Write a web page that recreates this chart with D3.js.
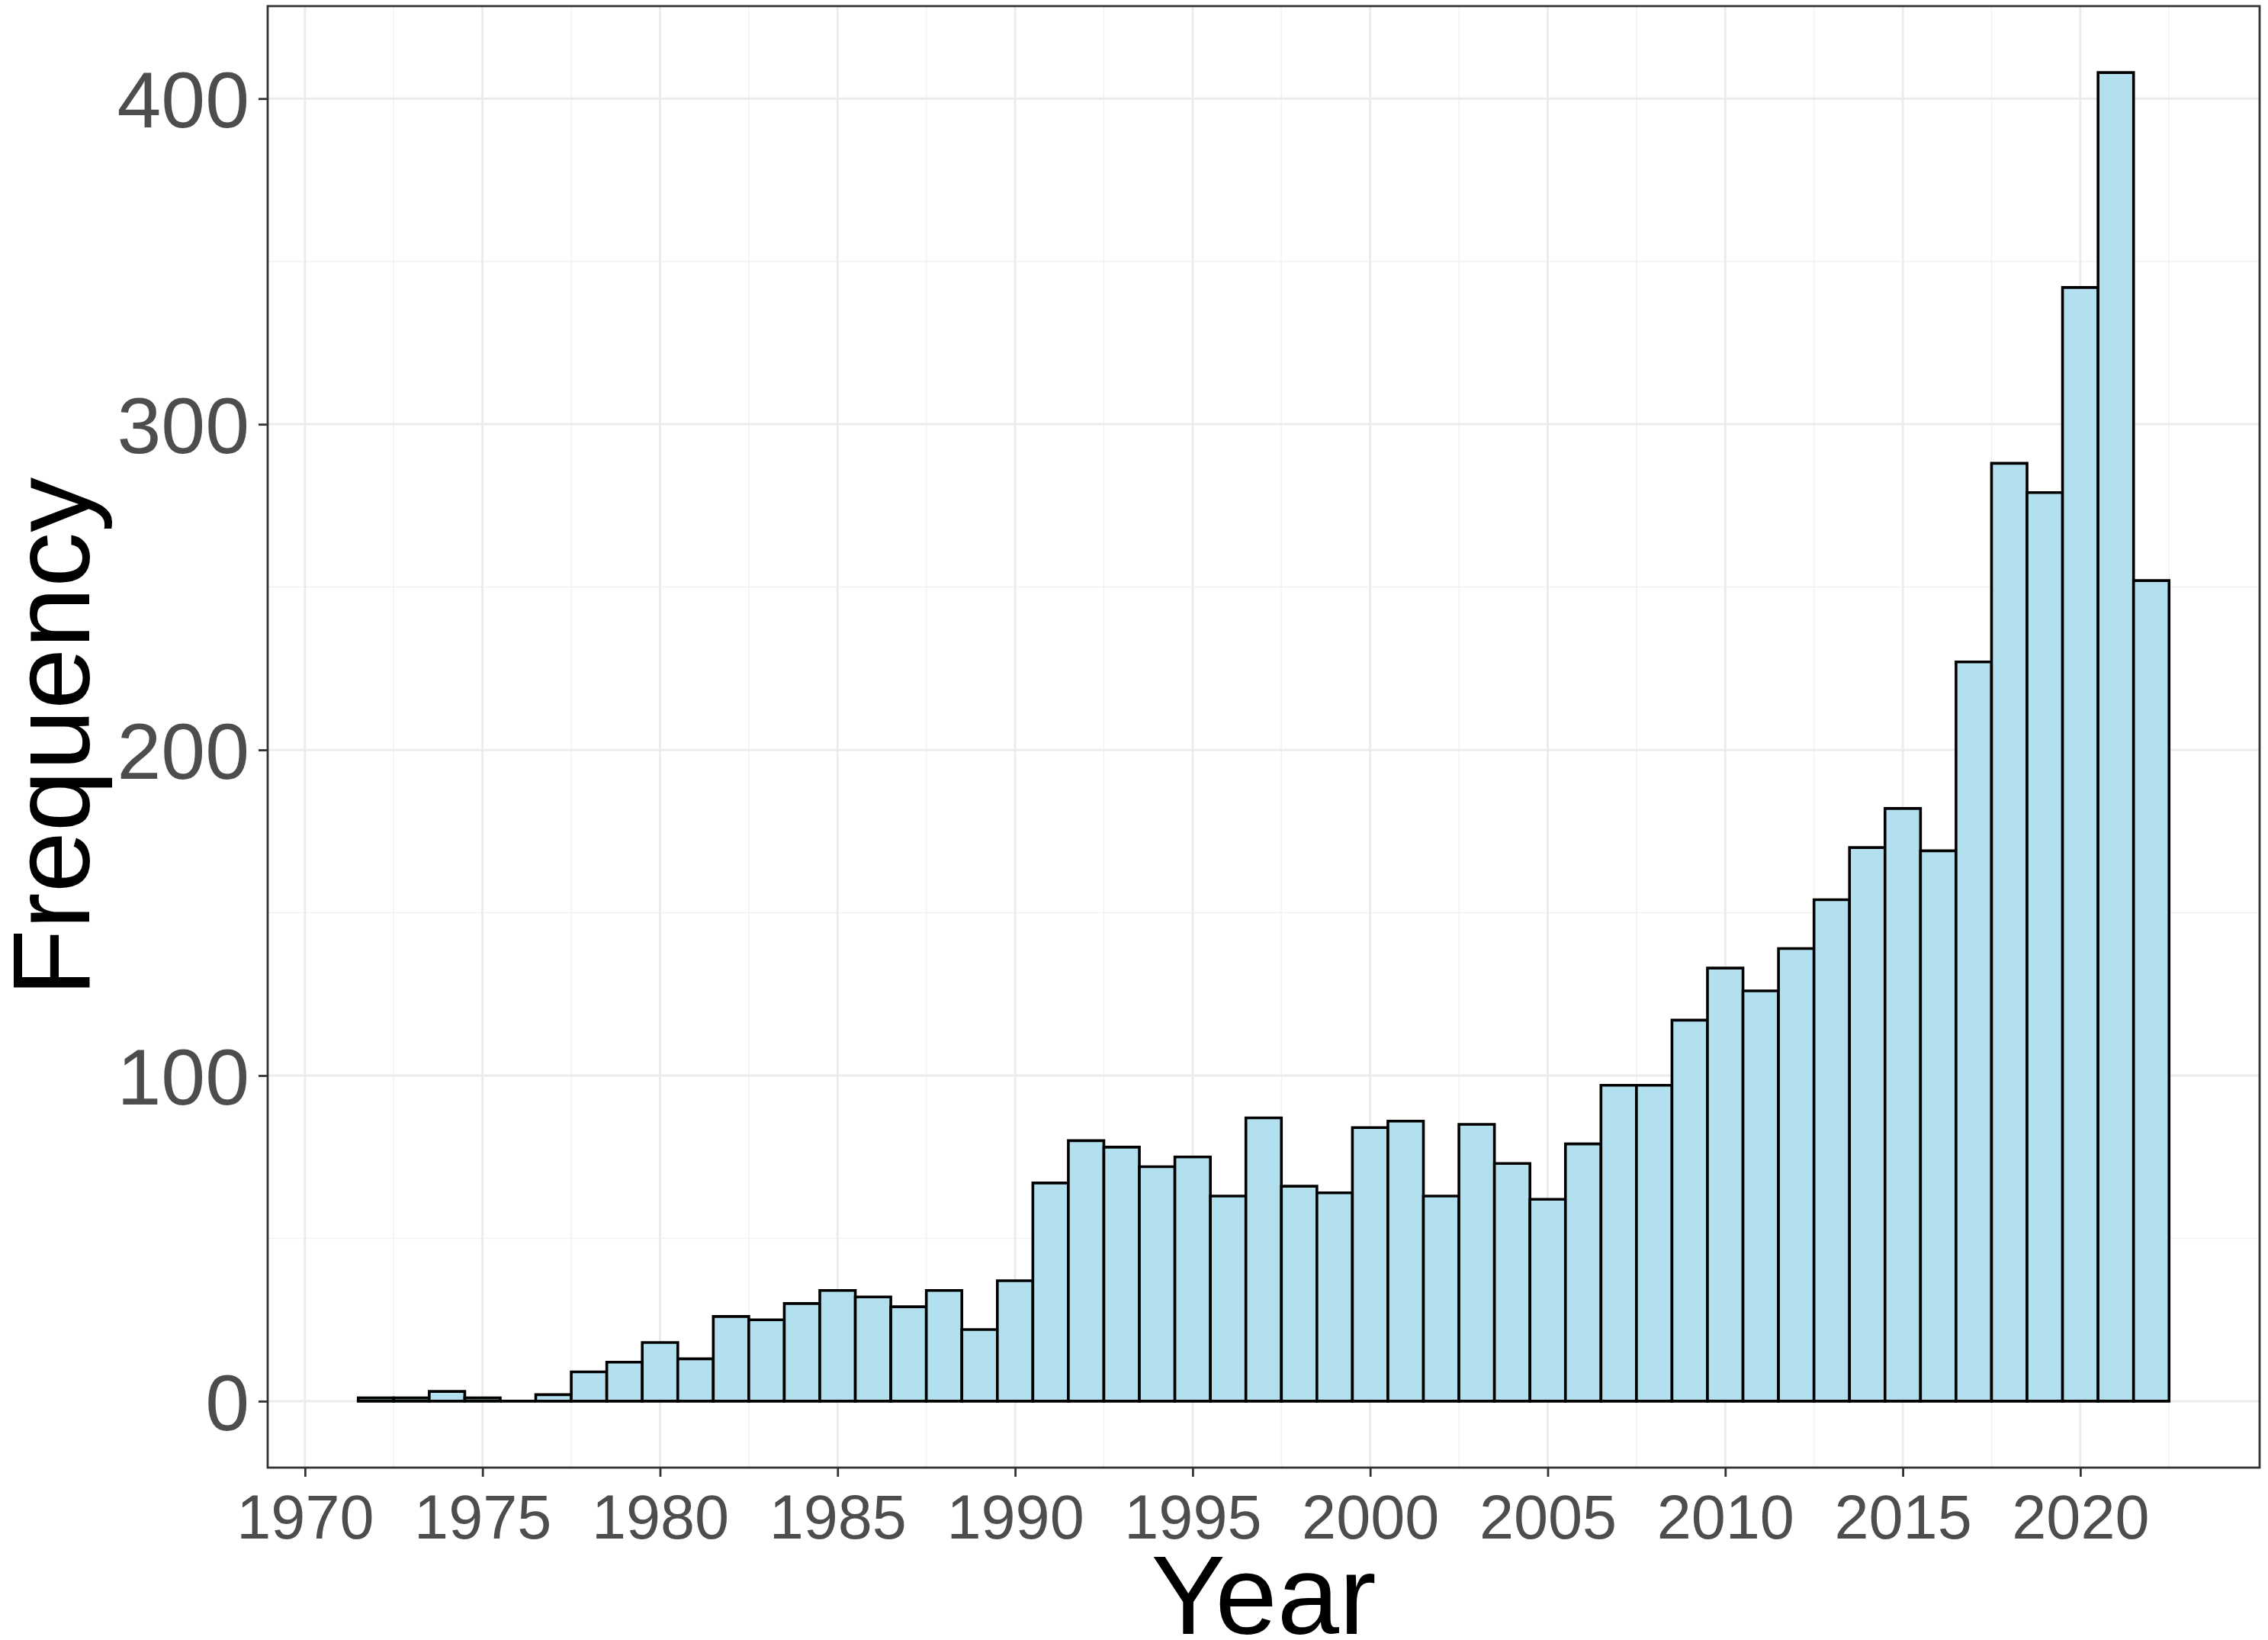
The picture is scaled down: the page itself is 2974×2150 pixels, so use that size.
<!DOCTYPE html>
<html>
<head>
<meta charset="utf-8">
<script src="https://cdn.jsdelivr.net/npm/d3@7"></script>
<style>
  html, body { margin: 0; padding: 0; background: #ffffff; }
  svg { display: block; }
</style>
</head>
<body>
<script>
// ---- Data ----
const years = [1972,1973,1974,1975,1976,1977,1978,1979,1980,1981,1982,1983,1984,1985,1986,1987,1988,1989,1990,1991,1992,1993,1994,1995,1996,1997,1998,1999,2000,2001,2002,2003,2004,2005,2006,2007,2008,2009,2010,2011,2012,2013,2014,2015,2016,2017,2018,2019,2020,2021,2022];
const counts = [1,1,3,1,0,2,9,12,18,13,26,25,30,34,32,29,34,22,37,67,80,78,72,75,63,87,66,64,84,86,63,85,73,62,79,97,97,117,133,126,139,154,170,182,169,227,288,279,342,408,252];
const xTicks = [1970,1975,1980,1985,1990,1995,2000,2005,2010,2015,2020];
const yTicks = [0,100,200,300,400];
const xMinor = [1972.5,1977.5,1982.5,1987.5,1992.5,1997.5,2002.5,2007.5,2012.5,2017.5,2022.5];
const yMinor = [50,150,250,350];
const xTitle = "Year";
const yTitle = "Frequency";

// ---- Layout ----
const W = 2974, H = 2150;
const panel = {left: 351, right: 2963, top: 8, bottom: 1924};

const svg = d3.select("body").append("svg")
  .attr("width", W).attr("height", H)
  .style("background", "#ffffff");

const binW = 1;
const xMinD = d3.min(years) - binW/2, xMaxD = d3.max(years) + binW/2;
const xPad = (xMaxD - xMinD) * 0.05;
const yMaxD = d3.max(counts), yPad = yMaxD * 0.05;

const x = d3.scaleLinear().domain([xMinD - xPad, xMaxD + xPad]).range([panel.left, panel.right]);
const y = d3.scaleLinear().domain([-yPad, yMaxD + yPad]).range([panel.bottom, panel.top]);

const font = "'Liberation Sans', Arial, Helvetica, sans-serif";

// grid
const g = svg.append("g");
g.selectAll("line.ymin").data(yMinor).join("line")
  .attr("x1", panel.left).attr("x2", panel.right)
  .attr("y1", d => y(d)).attr("y2", d => y(d))
  .attr("stroke", "#f2f2f2").attr("stroke-width", 1.5);
g.selectAll("line.xmin").data(xMinor).join("line")
  .attr("y1", panel.top).attr("y2", panel.bottom)
  .attr("x1", d => x(d)).attr("x2", d => x(d))
  .attr("stroke", "#f2f2f2").attr("stroke-width", 1.5);
g.selectAll("line.ymaj").data(yTicks).join("line")
  .attr("x1", panel.left).attr("x2", panel.right)
  .attr("y1", d => y(d)).attr("y2", d => y(d))
  .attr("stroke", "#ebebeb").attr("stroke-width", 2.8);
g.selectAll("line.xmaj").data(xTicks).join("line")
  .attr("y1", panel.top).attr("y2", panel.bottom)
  .attr("x1", d => x(d)).attr("x2", d => x(d))
  .attr("stroke", "#ebebeb").attr("stroke-width", 2.8);

// bars (paths so that zero-count bins still show their outline)
const bars = years.map((yr, i) => ({year: yr, n: counts[i]}));
svg.append("g").selectAll("path").data(bars).join("path")
  .attr("d", d => {
    const x0 = x(d.year - binW/2), x1 = x(d.year + binW/2);
    const y0 = y(0), y1 = y(d.n);
    return `M${x0},${y0}L${x0},${y1}L${x1},${y1}L${x1},${y0}Z`;
  })
  .attr("fill", "#b3e0ee")
  .attr("stroke", "#000000")
  .attr("stroke-width", 3.6)
  .attr("stroke-linejoin", "miter");

// panel border
svg.append("rect")
  .attr("x", panel.left).attr("y", panel.top)
  .attr("width", panel.right - panel.left).attr("height", panel.bottom - panel.top)
  .attr("fill", "none").attr("stroke", "#333333").attr("stroke-width", 2.8);

// x axis
const xAxis = d3.axisBottom(x).tickValues(xTicks).tickSize(12).tickPadding(0).tickFormat(d3.format("d"));
const xg = svg.append("g").attr("transform", `translate(0,${panel.bottom})`).call(xAxis);
xg.select(".domain").remove();
xg.selectAll(".tick line").attr("stroke", "#333333").attr("stroke-width", 2.8);
xg.selectAll(".tick text")
  .attr("y", 93).attr("dy", null)
  .attr("fill", "#4d4d4d")
  .style("font-family", font).style("font-size", "81px");

// y axis
const yAxis = d3.axisLeft(y).tickValues(yTicks).tickSize(12).tickPadding(0).tickFormat(d3.format("d"));
const yg = svg.append("g").attr("transform", `translate(${panel.left},0)`).call(yAxis);
yg.select(".domain").remove();
yg.selectAll(".tick line").attr("stroke", "#333333").attr("stroke-width", 2.8);
yg.selectAll(".tick text")
  .attr("x", -24).attr("dy", "0.36em")
  .attr("fill", "#4d4d4d")
  .style("font-family", font).style("font-size", "104px");

// titles
svg.append("text")
  .attr("x", (panel.left + panel.right) / 2).attr("y", 2142)
  .attr("text-anchor", "middle")
  .attr("fill", "#000000")
  .style("font-family", font).style("font-size", "146px")
  .text(xTitle);

svg.append("text")
  .attr("transform", `translate(117,${(panel.top + panel.bottom) / 2}) rotate(-90)`)
  .attr("text-anchor", "middle")
  .attr("fill", "#000000")
  .style("font-family", font).style("font-size", "144px")
  .text(yTitle);
</script>
</body>
</html>
